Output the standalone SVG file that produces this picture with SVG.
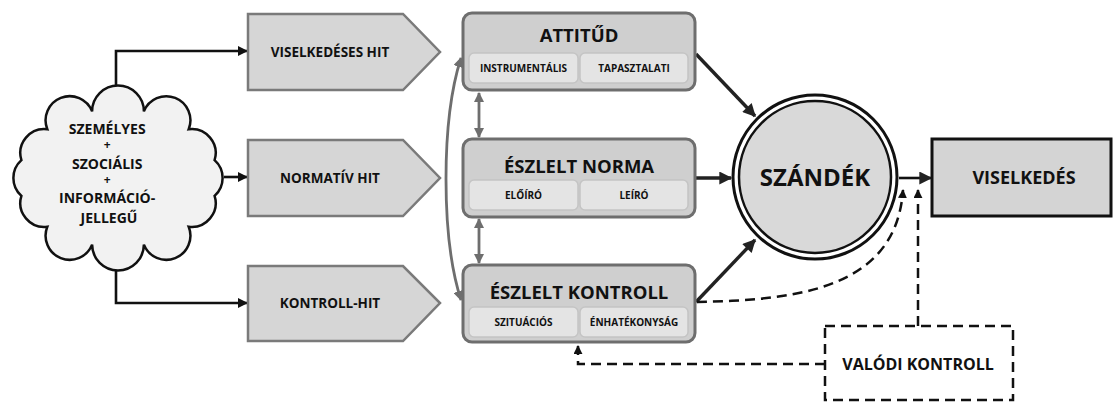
<svg xmlns="http://www.w3.org/2000/svg" width="1114" height="403" viewBox="0 0 1114 403">
  <defs>
    <style>
      text { font-family: "Open Sans", "Liberation Sans", sans-serif; font-weight: 700; fill: #111; text-anchor: middle; }
      .hit { fill: #d6d6d6; stroke: #7a7a7a; stroke-width: 2.5; }
      .box { fill: #cfcfcf; stroke: #6e6e6e; stroke-width: 3; }
      .sub { fill: #e4e4e4; stroke: #c4c4c4; stroke-width: 1.5; }
      .title { font-size: 18.5px; }
      .subt { font-size: 10px; }
      .lab { font-size: 13.5px; }
      .blk { fill: none; stroke: #111; stroke-width: 2.6; }
      .thick { fill: none; stroke: #222; stroke-width: 3.4; }
      .gray { fill: none; stroke: #6e6e6e; stroke-width: 2.8; }
      .dash { fill: none; stroke: #111; stroke-width: 2.5; stroke-dasharray: 10 6; }
    </style>
    <marker id="ah" viewBox="0 0 10 10" refX="9" refY="5" markerWidth="11" markerHeight="10" markerUnits="userSpaceOnUse" orient="auto-start-reverse">
      <path d="M0,0 L10,5 L0,10 z" fill="#111"/>
    </marker>
    <marker id="ahBig" viewBox="0 0 10 10" refX="9" refY="5" markerWidth="15" markerHeight="13" markerUnits="userSpaceOnUse" orient="auto-start-reverse">
      <path d="M0,0 L10,5 L0,10 z" fill="#222"/>
    </marker>
    <marker id="ahGray" viewBox="0 0 10 10" refX="9" refY="5" markerWidth="10" markerHeight="10" markerUnits="userSpaceOnUse" orient="auto-start-reverse">
      <path d="M0,0 L10,5 L0,10 z" fill="#6e6e6e"/>
    </marker>
    <marker id="ahSmall" viewBox="0 0 10 10" refX="9" refY="5" markerWidth="9" markerHeight="9" markerUnits="userSpaceOnUse" orient="auto-start-reverse">
      <path d="M0,0 L10,5 L0,10 z" fill="#111"/>
    </marker>
  </defs>

  <rect width="1114" height="403" fill="#ffffff"/>

  <!-- connectors -->
  <g id="connectors">
    <path class="blk" d="M116,98 V51 H247" marker-end="url(#ah)"/>
    <path class="blk" d="M224,177 H247" marker-end="url(#ah)"/>
    <path class="blk" d="M116,267 V303 H247" marker-end="url(#ah)"/>

    <path class="gray" d="M479,93 V137" marker-start="url(#ahGray)" marker-end="url(#ahGray)"/>
    <path class="gray" d="M479,219 V263" marker-start="url(#ahGray)" marker-end="url(#ahGray)"/>
    <path class="gray" d="M461,58 C441,120 441,238 461,300" marker-start="url(#ahGray)" marker-end="url(#ahGray)"/>

    <path class="thick" d="M696,54 L755,116" marker-end="url(#ahBig)"/>
    <path class="thick" d="M696,178 H731" marker-end="url(#ahBig)"/>
    <path class="thick" d="M696,302 L755,240" marker-end="url(#ahBig)"/>
    <path class="blk" d="M899,178 H931" marker-end="url(#ahBig)"/>

    <path class="dash" d="M697,302 C790,300 896,292 903,190" marker-end="url(#ahSmall)"/>
    <path class="dash" d="M918,326 V190" marker-end="url(#ahSmall)"/>
    <path class="dash" d="M825,364 H578 V346" marker-end="url(#ahSmall)"/>
  </g>

  <!-- source of beliefs -->
  <g id="cloud">
    <path fill="#f2f2f2" stroke="#111" stroke-width="2.5" d="M214.6,195.9 A24,24 0 0 1 188.7,226.8 A24,24 0 0 1 143.9,244.6 A24,24 0 0 1 92.1,244.6 A24,24 0 0 1 47.3,226.8 A24,24 0 0 1 21.4,195.9 A24,24 0 0 1 21.4,160.1 A24,24 0 0 1 47.3,129.2 A24,24 0 0 1 92.1,111.4 A24,24 0 0 1 143.9,111.4 A24,24 0 0 1 188.7,129.2 A24,24 0 0 1 214.6,160.1 A24,24 0 0 1 214.6,195.9 Z"/>
    <text font-size="14">
      <tspan x="109" y="134">SZEMÉLYES</tspan>
      <tspan x="109" y="149" font-size="12">+</tspan>
      <tspan x="109" y="169">SZOCIÁLIS</tspan>
      <tspan x="109" y="184" font-size="12">+</tspan>
      <tspan x="109" y="203">INFORMÁCIÓ-</tspan>
      <tspan x="109" y="223">JELLEGŰ</tspan>
    </text>
  </g>

  <!-- beliefs -->
  <g id="viselkedeses-hit">
    <path class="hit" d="M248,14 H403 L440,52 L403,90 H248 Z"/>
    <text class="lab" x="330" y="57">VISELKEDÉSES HIT</text>
  </g>
  <g id="normativ-hit">
    <path class="hit" d="M248,140 H403 L440,178 L403,216 H248 Z"/>
    <text class="lab" x="330" y="183">NORMATÍV HIT</text>
  </g>
  <g id="kontroll-hit">
    <path class="hit" d="M248,266 H403 L440,303 L403,341 H248 Z"/>
    <text class="lab" x="330" y="308">KONTROLL-HIT</text>
  </g>

  <!-- determinants -->
  <g id="attitud">
    <rect class="box" x="463" y="13" width="232" height="77" rx="9"/>
    <text class="title" x="579" y="42">ATTITŰD</text>
    <rect class="sub" x="469" y="53" width="109" height="30" rx="5"/>
    <rect class="sub" x="580" y="53" width="108" height="30" rx="5"/>
    <text class="subt" x="523.5" y="72">INSTRUMENTÁLIS</text>
    <text class="subt" x="634" y="72">TAPASZTALATI</text>
  </g>
  <g id="eszlelt-norma">
    <rect class="box" x="463" y="139" width="232" height="78" rx="9"/>
    <text class="title" x="579" y="173">ÉSZLELT NORMA</text>
    <rect class="sub" x="469" y="180" width="109" height="30" rx="5"/>
    <rect class="sub" x="580" y="180" width="108" height="30" rx="5"/>
    <text class="subt" x="523.5" y="199">ELŐÍRÓ</text>
    <text class="subt" x="634" y="199">LEÍRÓ</text>
  </g>
  <g id="eszlelt-kontroll">
    <rect class="box" x="463" y="265" width="232" height="77" rx="9"/>
    <text class="title" x="579" y="299">ÉSZLELT KONTROLL</text>
    <rect class="sub" x="469" y="307" width="109" height="30" rx="5"/>
    <rect class="sub" x="580" y="307" width="108" height="30" rx="5"/>
    <text class="subt" x="523.5" y="326">SZITUÁCIÓS</text>
    <text class="subt" x="634" y="326">ÉNHATÉKONYSÁG</text>
  </g>

  <!-- intention: double ring with a white gap -->
  <g id="szandek">
    <circle cx="815" cy="177" r="82" fill="#ffffff" stroke="#111" stroke-width="3"/>
    <circle cx="815" cy="177" r="76" fill="#d9d9d9" stroke="#111" stroke-width="2.5"/>
    <text x="815" y="186" font-size="24">SZÁNDÉK</text>
  </g>

  <!-- behaviour -->
  <g id="viselkedes">
    <rect x="932" y="139" width="179" height="77" fill="#d4d4d4" stroke="#111" stroke-width="3"/>
    <text x="1024" y="184" font-size="18">VISELKEDÉS</text>
  </g>

  <!-- actual control -->
  <g id="valodi-kontroll">
    <rect x="825" y="326" width="188" height="74" class="dash"/>
    <text x="918" y="370" font-size="16">VALÓDI KONTROLL</text>
  </g>
</svg>
